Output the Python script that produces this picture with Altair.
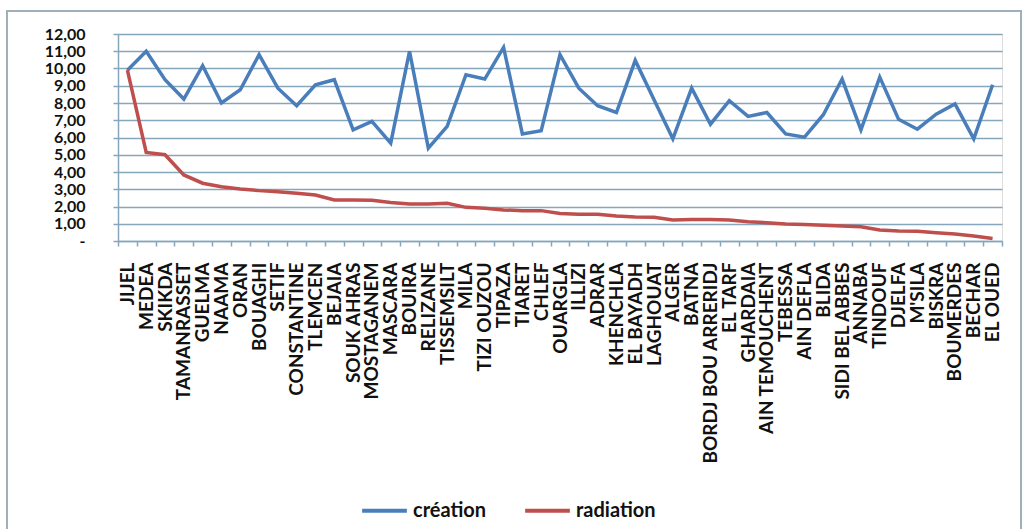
import altair as alt
import pandas as pd

wilayas = ["JIJEL", "MEDEA", "SKIKDA", "TAMANRASSET", "GUELMA", "NAAMA", "ORAN", "BOUAGHI",
           "SETIF", "CONSTANTINE", "TLEMCEN", "BEJAIA", "SOUK AHRAS", "MOSTAGANEM", "MASCARA",
           "BOUIRA", "RELIZANE", "TISSEMSILT", "MILA", "TIZI OUZOU", "TIPAZA", "TIARET", "CHLEF",
           "OUARGLA", "ILLIZI", "ADRAR", "KHENCHLA", "EL BAYADH", "LAGHOUAT", "ALGER", "BATNA",
           "BORDJ BOU ARRERIDJ", "EL TARF", "GHARDAIA", "AIN TEMOUCHENT", "TEBESSA", "AIN DEFLA",
           "BLIDA", "SIDI BEL ABBES", "ANNABA", "TINDOUF", "DJELFA", "M'SILA", "BISKRA",
           "BOUMERDES", "BECHAR", "EL OUED"]

creation = [9.9, 11.0, 9.35, 8.23, 10.16, 8.0, 8.77, 10.8, 8.86, 7.84, 9.06, 9.35, 6.44, 6.93,
            5.67, 11.0, 5.38, 6.64, 9.64, 9.39, 11.22, 6.21, 6.39, 10.8, 8.86, 7.84, 7.45, 10.47,
            8.19, 5.92, 8.86, 6.77, 8.13, 7.22, 7.45, 6.21, 6.02, 7.32, 9.39, 6.44, 9.5, 7.06,
            6.48, 7.35, 7.95, 5.92, 9.06]

radiation = [9.9, 5.13, 5.0, 3.83, 3.35, 3.15, 3.02, 2.92, 2.85, 2.77, 2.67, 2.38, 2.38, 2.36,
             2.23, 2.15, 2.15, 2.19, 1.95, 1.9, 1.8, 1.76, 1.76, 1.6, 1.55, 1.55, 1.45, 1.39,
             1.37, 1.22, 1.24, 1.24, 1.22, 1.12, 1.06, 0.99, 0.95, 0.91, 0.87, 0.83, 0.64, 0.58,
             0.56, 0.48, 0.41, 0.29, 0.15]

series_names = ["création", "radiation"]
series_colors = ["#4a7ebb", "#be4f4c"]
y_ticks = list(range(0, 13))

rows = []
for name, vals in zip(series_names, [creation, radiation]):
    for w, v in zip(wilayas, vals):
        rows.append({"wilaya": w, "serie": name, "valeur": v})
df = pd.DataFrame(rows)

grid_col = "#86a6bc"
font = "Lato"

# decorative outer frame of the chart object
frame = alt.Chart(pd.DataFrame({"k": [0]})).mark_rect(
    fill=None, stroke="#9fb0bb", strokeWidth=2
).encode(x=alt.value(-111), x2=alt.value(903), y=alt.value(-23), y2=alt.value(510))

lines = alt.Chart(df).mark_line(strokeWidth=3.5, strokeJoin="miter").encode(
    x=alt.X("wilaya:N", sort=wilayas, bandPosition=0.5,
            scale=alt.Scale(type="band", paddingInner=0, paddingOuter=0),
            axis=alt.Axis(title=None, labelAngle=270, labelAlign="right", labelBaseline="middle",
                          labelPadding=16, tickSize=5, tickBand="extent", tickColor=grid_col,
                          domainColor=grid_col, domainWidth=1.5, tickWidth=1.5,
                          labelFont=font, labelFontWeight="bold", labelFontSize=19,
                          labelLimit=400, labelColor="#111111", grid=False, labelOverlap=False)),
    y=alt.Y("valeur:Q", scale=alt.Scale(domain=[0, 12], nice=False),
            axis=alt.Axis(title=None, values=y_ticks, tickSize=5, tickColor=grid_col,
                          domainColor=grid_col, domainWidth=1.5, tickWidth=1.5,
                          gridColor=grid_col, gridWidth=1.5, gridOpacity=1,
                          labelOverlap=False, labelPadding=28, labelFont=font,
                          labelFontWeight="bold", labelFontSize=16, labelColor="#111111",
                          labelExpr="datum.value == 0 ? '-' : replace(format(datum.value, '.2f'), '.', ',')")),
    color=alt.Color("serie:N", sort=series_names,
                    scale=alt.Scale(domain=series_names, range=series_colors),
                    legend=alt.Legend(title=None, orient="none", direction="horizontal",
                                      legendX=242, legendY=452, symbolType="stroke",
                                      symbolSize=2000, symbolStrokeWidth=4, labelOffset=4,
                                      columnPadding=30, labelFont=font, labelFontWeight="bold",
                                      labelFontSize=20, labelColor="#111111")),
)

chart = alt.layer(frame, lines).properties(
    width=884, height=207,
    autosize=alt.AutoSizeParams(type="none"),
    padding={"left": 118, "top": 34, "right": 22, "bottom": 288},
).configure_view(stroke=None).configure(background="white")

chart.save("out.html", embed_options={"renderer": "svg", "actions": False})
